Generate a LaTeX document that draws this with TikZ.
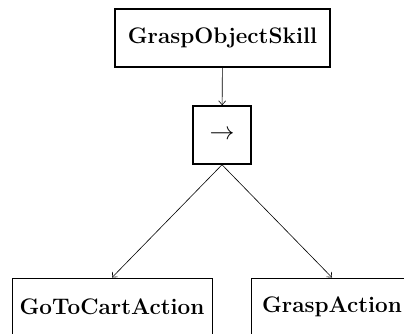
\documentclass[tikz,border=0pt]{standalone}
\usepackage{fontspec}
\usetikzlibrary{arrows.meta}
\begin{document}
\begin{tikzpicture}[x=1pt,y=-1pt,
  lbl/.style={font=\bfseries\fontsize{22.5}{26}\selectfont},
  topbox/.style={draw, line width=1.5pt, minimum height=58pt, inner sep=0pt, lbl},
  seqbox/.style={draw, line width=1.5pt, minimum width=58pt, minimum height=58pt, inner sep=0pt, font=\fontsize{23}{26}\selectfont},
  leafbox/.style={draw, line width=0.9pt, minimum height=58pt, inner sep=0pt, lbl},
  arr/.style={-{Straight Barb[length=4pt,width=7pt]}, line width=0.6pt}]
\useasboundingbox (0,0) rectangle (404,333);
\clip (0,0) rectangle (404,333);
\node[topbox, minimum width=215pt] (top) at (222.5,38) {GraspObjectSkill};
\node[seqbox] (seq) at (222,135) {$\rightarrow$};
\node[leafbox, minimum width=200pt] (l) at (112,307) {GoToCartAction};
\node[leafbox, minimum width=162pt] (r) at (332,307) {GraspAction};
\draw[arr] (top) -- (seq);
\draw[arr] (seq.south) -- (l.north);
\draw[arr] (seq.south) -- (r.north);
\end{tikzpicture}
\end{document}
